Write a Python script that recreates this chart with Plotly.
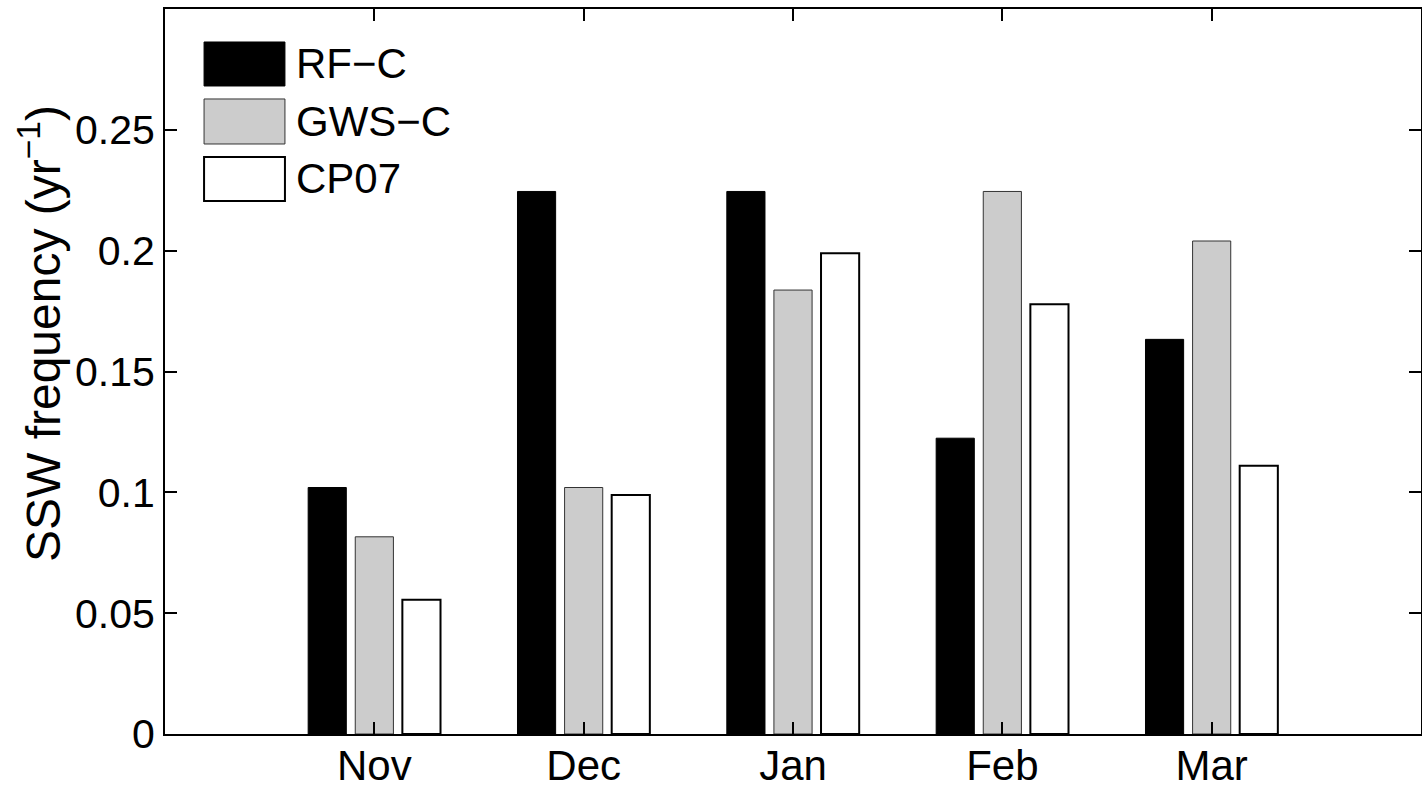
import plotly.graph_objects as go

months = ["Nov", "Dec", "Jan", "Feb", "Mar"]
month_pos = [1, 2, 3, 4, 5]
rf_c = [0.102, 0.2245, 0.2245, 0.1224, 0.1633]
gws_c = [0.0816, 0.102, 0.1837, 0.2245, 0.204]
cp07 = [0.0556, 0.0989, 0.1989, 0.1778, 0.111]
y_ticks = [0, 0.05, 0.1, 0.15, 0.2, 0.25]
y_ticktext = ["0", "0.05", "0.1", "0.15", "0.2", "0.25"]

FONT = "Liberation Sans, Arial, Helvetica, sans-serif"

fig = go.Figure()
fig.add_trace(go.Bar(x=month_pos, y=rf_c, name="RF\u2212C",
                     marker=dict(color="black", line=dict(color="black", width=1))))
fig.add_trace(go.Bar(x=month_pos, y=gws_c, name="GWS\u2212C",
                     marker=dict(color="#cccccc", line=dict(color="#333333", width=1))))
fig.add_trace(go.Bar(x=month_pos, y=cp07, name="CP07",
                     marker=dict(color="white", line=dict(color="black", width=2))))

fig.update_layout(
    width=1422, height=788,
    margin=dict(l=165, r=1, t=9, b=54),
    paper_bgcolor="white", plot_bgcolor="white",
    barmode="group", bargap=0.325, bargroupgap=0.19,
    showlegend=False,
    font=dict(family=FONT, size=42, color="black"),
)
fig.update_xaxes(
    range=[0, 6], tickvals=month_pos, ticktext=months,
    showline=True, linecolor="black", linewidth=2, mirror="allticks",
    ticks="inside", ticklen=12, tickwidth=1.5, tickcolor="black",
    showgrid=False, zeroline=False, automargin=False,
    tickfont=dict(size=42), ticklabelstandoff=-6,
)
fig.update_yaxes(
    range=[0, 0.3], tickvals=y_ticks, ticktext=y_ticktext,
    showline=True, linecolor="black", linewidth=2, mirror="allticks",
    ticks="inside", ticklen=12, tickwidth=1.5, tickcolor="black",
    showgrid=False, zeroline=False, automargin=False,
    tickfont=dict(size=41),
)

# Y-axis title (positioned as in the reference, slightly above axis centre)
fig.add_annotation(xref="paper", yref="paper", x=-0.0995, y=0.5517,
                   text="SSW frequency (yr<sup>\u22121</sup>)", textangle=-90,
                   showarrow=False, xanchor="center", yanchor="middle",
                   font=dict(size=48, family=FONT, color="black"))

# Legend drawn manually (MATLAB style large swatches)
legend_items = [
    ("RF\u2212C", "black", "black", 1, 0.8938, 0.9545),
    ("GWS\u2212C", "#cccccc", "#333333", 1, 0.8138, 0.8759),
    ("CP07", "white", "black", 2, 0.7352, 0.7959),
]
for label, fill, lc, lw, y0, y1 in legend_items:
    fig.add_shape(type="rect", xref="paper", yref="paper",
                  x0=0.0311, x1=0.0955, y0=y0, y1=y1,
                  fillcolor=fill, line=dict(color=lc, width=lw))
    fig.add_annotation(xref="paper", yref="paper", x=0.1027, y=(y0 + y1) / 2,
                       text=label, showarrow=False, xanchor="left", yanchor="middle",
                       font=dict(size=42, family=FONT, color="black"))

fig.write_html("out.html", config={"displayModeBar": False},
               post_script="document.body.style.margin='0';document.body.style.overflow='hidden';")
